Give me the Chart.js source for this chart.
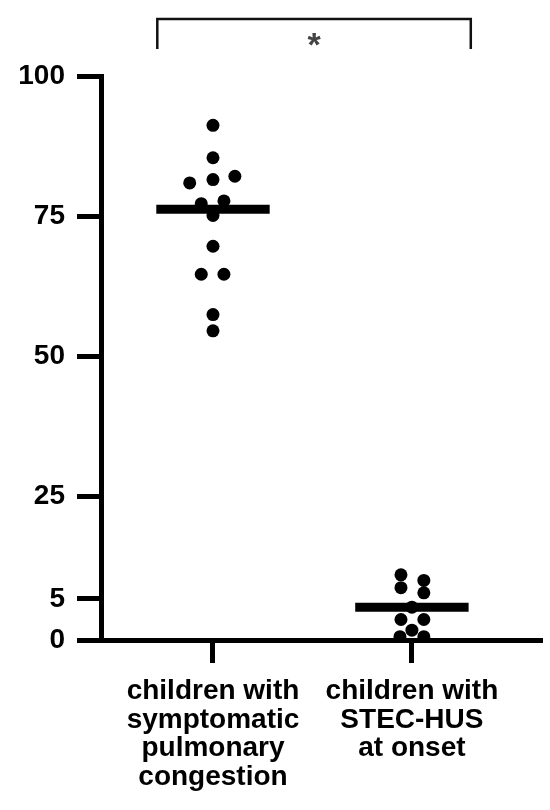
<!DOCTYPE html>
<html>
<head>
<meta charset="utf-8">
<script src="https://cdn.jsdelivr.net/npm/chart.js@4.4.1/dist/chart.umd.min.js"></script>
<style>
  html, body { margin: 0; padding: 0; background: #fff; }
  #wrap { width: 550px; height: 810px; }
</style>
</head>
<body>
<div id="wrap"><canvas id="chart" width="550" height="810"></canvas></div>
<script>
// Datos
const groupLabels = [
  ['children with', 'symptomatic', 'pulmonary', 'congestion'],
  ['children with', 'STEC-HUS', 'at onset']
];
const yTickValues = [0, 5, 25, 50, 75, 100];

// Grupo 1 (x = 1 es el centro de la columna, con dispersión lateral)
const group1X = [1, 1, 0.883, 1, 1.11, 0.941, 1.055, 1, 1, 0.941, 1.055, 1, 1];
const group1Y = [91.2, 85.4, 80.9, 81.5, 82.1, 77.2, 77.7, 75.1, 69.6, 64.6, 64.6, 57.4, 54.5];

// Grupo 2
const group2X = [1.945, 2.06, 1.945, 2.06, 2, 1.945, 2.06, 2, 1.94, 2.06];
const group2Y = [9.7, 8.6, 7.2, 6.2, 4.0, 2.5, 2.5, 1.2, 0.4, 0.4];

// Línea horizontal de cada grupo (mediana)
const medians = [76.2, 4.0];
const significance = '*';

// Escala por tramos: el eje original no es lineal entre 0, 5, 25 y 100
const segBreaks = [0, 5, 25, 100];
const segFractions = [0, 0.0727, 0.2553, 1];

function toFraction(v) {
  for (let i = 1; i < segBreaks.length; i++) {
    if (v <= segBreaks[i] || i === segBreaks.length - 1) {
      const t = (v - segBreaks[i - 1]) / (segBreaks[i] - segBreaks[i - 1]);
      return segFractions[i - 1] + t * (segFractions[i] - segFractions[i - 1]);
    }
  }
}

function fromFraction(f) {
  for (let i = 1; i < segFractions.length; i++) {
    if (f <= segFractions[i] || i === segFractions.length - 1) {
      const t = (f - segFractions[i - 1]) / (segFractions[i] - segFractions[i - 1]);
      return segBreaks[i - 1] + t * (segBreaks[i] - segBreaks[i - 1]);
    }
  }
}

class SegmentedScale extends Chart.LinearScale {
  getPixelForValue(value) {
    if (value === null || isNaN(value)) return NaN;
    return this.getPixelForDecimal(toFraction(value));
  }
  getValueForPixel(pixel) {
    return fromFraction(this.getDecimalForPixel(pixel));
  }
}
SegmentedScale.id = 'segmented';
SegmentedScale.defaults = Chart.LinearScale.defaults;
Chart.register(SegmentedScale);

const BAR_HALF = 0.285;
const FONT = '"Liberation Sans", Arial, sans-serif';

// Corchete de significación arriba
const bracketPlugin = {
  id: 'bracket',
  afterDraw(chart) {
    const ctx = chart.ctx;
    const x = chart.scales.x;
    const x1 = x.getPixelForValue(0.72);
    const x2 = x.getPixelForValue(2.296);
    ctx.save();
    ctx.strokeStyle = '#111';
    ctx.lineWidth = 2.5;
    ctx.beginPath();
    ctx.moveTo(x1, 49);
    ctx.lineTo(x1, 19);
    ctx.lineTo(x2, 19);
    ctx.lineTo(x2, 49);
    ctx.stroke();
    ctx.fillStyle = '#444';
    ctx.font = 'bold 34px ' + FONT;
    ctx.textAlign = 'center';
    ctx.textBaseline = 'alphabetic';
    ctx.fillText(significance, (x1 + x2) / 2, 56);
    ctx.restore();
  }
};

const pts = (xs, ys) => xs.map((v, i) => ({ x: v, y: ys[i] }));
const medianLine = i => [
  { x: i + 1 - BAR_HALF, y: medians[i] },
  { x: i + 1 + BAR_HALF, y: medians[i] }
];

const dotStyle = {
  type: 'scatter',
  pointRadius: 6.5,
  pointHoverRadius: 6.5,
  pointBackgroundColor: '#000',
  pointBorderWidth: 0,
  showLine: false
};
const barStyle = {
  type: 'line',
  borderColor: '#000',
  borderWidth: 9,
  borderCapStyle: 'butt',
  pointRadius: 0,
  fill: false
};

new Chart(document.getElementById('chart'), {
  type: 'scatter',
  data: {
    datasets: [
      { ...dotStyle, data: pts(group1X, group1Y) },
      { ...dotStyle, data: pts(group2X, group2Y) },
      { ...barStyle, data: medianLine(0) },
      { ...barStyle, data: medianLine(1) }
    ]
  },
  options: {
    responsive: false,
    animation: false,
    layout: { padding: { top: 76, right: 8, left: 0, bottom: 0 } },
    plugins: {
      legend: { display: false },
      tooltip: { enabled: false }
    },
    scales: {
      x: {
        type: 'linear',
        min: 0.437,
        max: 2.654,
        afterBuildTicks: s => { s.ticks = [{ value: 1 }, { value: 2 }]; },
        afterFit: s => { s.height = 170; },
        border: { display: true, width: 5, color: '#000' },
        grid: {
          drawOnChartArea: false,
          tickLength: 23,
          tickWidth: 5,
          tickColor: '#000'
        },
        ticks: {
          padding: 14,
          autoSkip: false,
          maxRotation: 0,
          color: '#000',
          font: { family: FONT, size: 28, weight: 'bold', lineHeight: '28.6px' },
          callback: v => groupLabels[v - 1]
        }
      },
      y: {
        type: 'segmented',
        min: 0,
        max: 100,
        afterBuildTicks: s => { s.ticks = yTickValues.map(v => ({ value: v })); },
        afterFit: s => { s.width = 101; },
        border: { display: true, width: 5, color: '#000' },
        grid: {
          drawOnChartArea: false,
          tickLength: 24,
          tickWidth: 5,
          tickColor: '#000'
        },
        ticks: {
          padding: 12,
          color: '#000',
          font: { family: FONT, size: 28, weight: 'bold' },
          callback: v => String(v)
        }
      }
    }
  },
  plugins: [bracketPlugin]
});
</script>
</body>
</html>
